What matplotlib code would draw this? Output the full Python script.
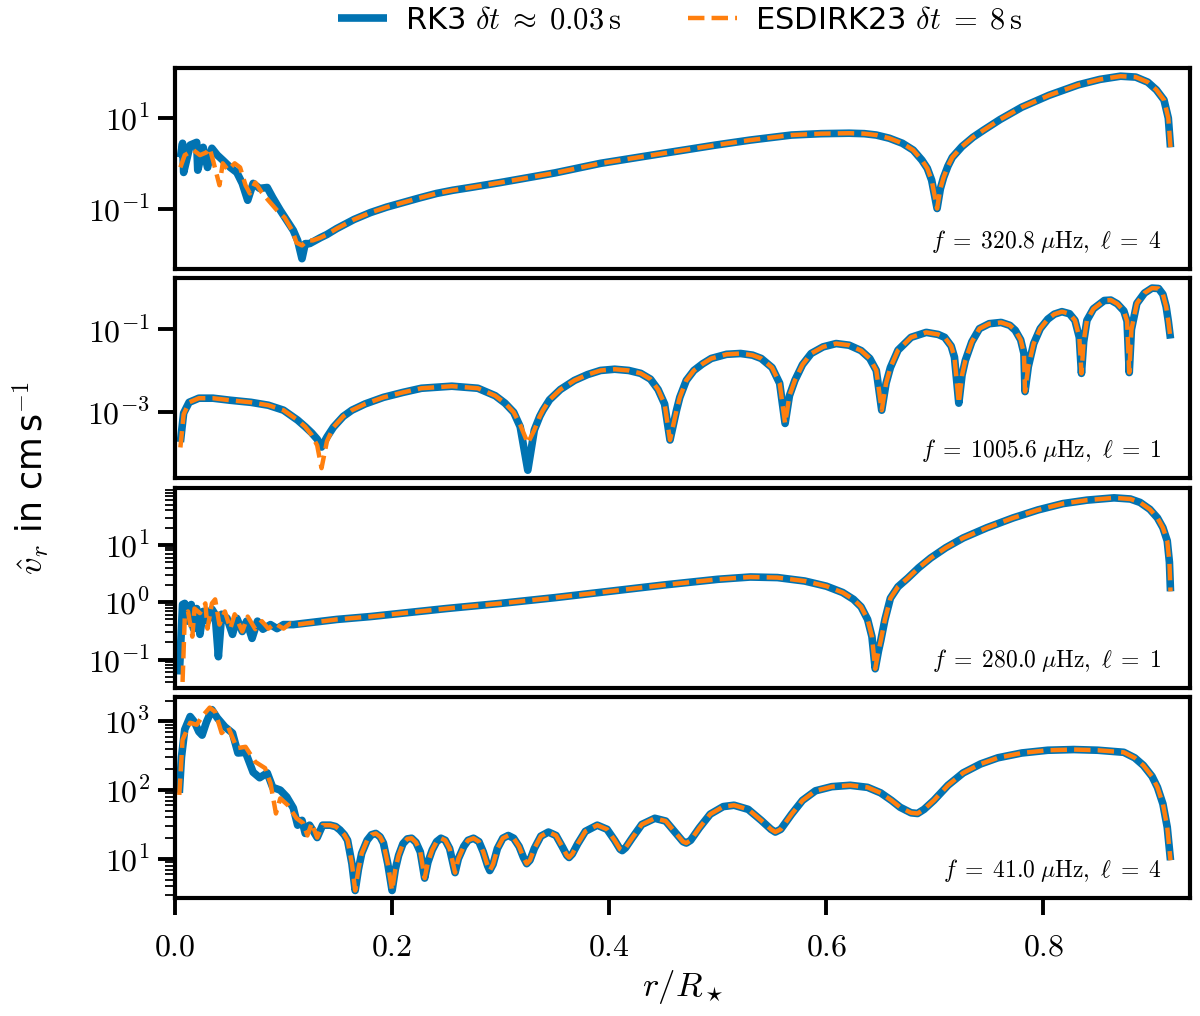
import numpy as np
import matplotlib
matplotlib.use("Agg")
import matplotlib.pyplot as plt
from matplotlib.ticker import FixedLocator, NullLocator, LogLocator, FuncFormatter

plt.rcParams['mathtext.fontset'] = 'cm'
plt.rcParams['font.family'] = ['DejaVu Sans']

BLUE = '#0173b2'
ORANGE = '#ff7f0e'

# values, stored as log10 of v_r (cm/s)

# ---- panel 1: f = 320.8 muHz, l = 4
p1_r_rk3 = [0.005, 0.007, 0.008, 0.014, 0.020, 0.021, 0.026, 0.030, 0.034, 0.039, 0.044, 0.051, 0.057,
            0.062, 0.067, 0.072, 0.078, 0.085, 0.090, 0.097, 0.103, 0.109, 0.113, 0.117, 0.120, 0.124]
p1_lg_rk3 = [0.14, 0.45, -0.19, 0.41, 0.47, -0.14, 0.36, -0.08, 0.34, 0.19, 0.08, -0.08, -0.19,
             -0.43, -0.80, -0.43, -0.54, -0.52, -0.74, -1.02, -1.24, -1.46, -1.68, -2.08, -1.75, -1.75]
p1_r_es = [0.005, 0.009, 0.017, 0.023, 0.029, 0.032, 0.035, 0.041, 0.044, 0.049, 0.055, 0.060, 0.065,
           0.069, 0.074, 0.080, 0.086, 0.094, 0.101, 0.108, 0.112, 0.117, 0.122, 0.127]
p1_lg_es = [-0.08, 0.19, 0.30, 0.19, 0.25, 0.34, 0.08, -0.47, 0.01, -0.14, 0.01, -0.08, -0.47,
            -0.65, -0.41, -0.63, -0.80, -1.02, -1.18, -1.46, -1.73, -1.79, -1.68, -1.68]
p1_r_tail = [0.134, 0.140, 0.149, 0.165, 0.180, 0.195, 0.210, 0.225, 0.241, 0.256, 0.272, 0.300, 0.350,
             0.392, 0.450, 0.498, 0.530, 0.568, 0.595, 0.621, 0.635, 0.646, 0.658, 0.670, 0.680, 0.688,
             0.693, 0.697, 0.702, 0.705, 0.708, 0.712, 0.716, 0.725, 0.735, 0.745, 0.760, 0.780, 0.805,
             0.832, 0.852, 0.871, 0.885, 0.896, 0.904, 0.911, 0.915, 0.917]
p1_lg_tail = [-1.62, -1.55, -1.42, -1.22, -1.07, -0.95, -0.85, -0.75, -0.65, -0.58, -0.52, -0.41, -0.20,
              0.01, 0.23, 0.41, 0.52, 0.63, 0.66, 0.67, 0.66, 0.63, 0.56, 0.45, 0.30, 0.08,
              -0.10, -0.36, -0.98, -0.55, -0.30, -0.05, 0.14, 0.38, 0.58, 0.74, 0.97, 1.24, 1.50,
              1.73, 1.85, 1.92, 1.90, 1.79, 1.62, 1.40, 1.00, 0.36]

# ---- panel 2: f = 1005.6 muHz, l = 1
p2_r_head = [0.005, 0.008, 0.013, 0.022, 0.035, 0.051, 0.070, 0.086, 0.100, 0.113, 0.120, 0.126, 0.131,
             0.135, 0.140, 0.146, 0.155, 0.163, 0.175, 0.192, 0.210, 0.227, 0.255, 0.279, 0.295, 0.304,
             0.312, 0.318, 0.325]
p2_lg_rk3 = [-3.72, -3.02, -2.76, -2.66, -2.66, -2.71, -2.76, -2.83, -2.95, -3.19, -3.35, -3.50, -3.65,
             -3.84, -3.60, -3.36, -3.10, -2.95, -2.80, -2.64, -2.52, -2.42, -2.37, -2.42, -2.60, -2.78,
             -3.00, -3.35, -4.40]
p2_lg_es = [-3.85, -3.05, -2.76, -2.66, -2.66, -2.71, -2.76, -2.83, -2.95, -3.19, -3.35, -3.55, -3.80,
            -4.35, -3.70, -3.36, -3.10, -2.95, -2.80, -2.64, -2.52, -2.42, -2.37, -2.42, -2.60, -2.78,
            -3.00, -3.30, -3.75]
p2_r_tail = [0.331, 0.336, 0.339, 0.345, 0.355, 0.368, 0.380, 0.392, 0.405, 0.418, 0.429, 0.438, 0.445,
             0.451, 0.456, 0.462, 0.465, 0.471, 0.478, 0.486, 0.494, 0.508, 0.521, 0.532, 0.540, 0.550,
             0.557, 0.562, 0.566, 0.571, 0.578, 0.586, 0.597, 0.609, 0.621, 0.632, 0.640, 0.646, 0.651,
             0.655, 0.659, 0.666, 0.678, 0.692, 0.703, 0.709, 0.715, 0.718, 0.722, 0.725, 0.728, 0.734,
             0.741, 0.750, 0.761, 0.769, 0.774, 0.779, 0.782, 0.783, 0.786, 0.791, 0.797, 0.804, 0.810,
             0.817, 0.824, 0.829, 0.833, 0.835, 0.837, 0.840, 0.846, 0.856, 0.862, 0.868, 0.874, 0.877,
             0.879, 0.881, 0.886, 0.893, 0.900, 0.906, 0.910, 0.913, 0.915, 0.917]
p2_lg_tail = [-3.43, -3.10, -2.95, -2.70, -2.45, -2.23, -2.09, -1.99, -1.96, -1.99, -2.06, -2.20, -2.45,
              -2.80, -3.67, -2.95, -2.64, -2.23, -1.99, -1.83, -1.70, -1.60, -1.58, -1.62, -1.70, -1.92,
              -2.30, -3.27, -2.60, -2.23, -1.85, -1.58, -1.42, -1.34, -1.38, -1.51, -1.70, -1.99, -2.95,
              -2.30, -1.92, -1.50, -1.19, -1.07, -1.12, -1.19, -1.40, -1.67, -2.78, -2.10, -1.75, -1.30,
              -0.98, -0.86, -0.83, -0.90, -1.02, -1.25, -1.58, -2.50, -1.90, -1.34, -0.98, -0.75, -0.63,
              -0.57, -0.62, -0.78, -1.19, -2.06, -1.30, -0.78, -0.50, -0.30, -0.29, -0.38, -0.55, -0.80,
              -2.04, -1.00, -0.37, -0.12, 0.00, -0.01, -0.15, -0.45, -0.80, -1.22]

# ---- panel 3: f = 280.0 muHz, l = 1
p3_r_rk3 = [0.004, 0.007, 0.009, 0.012, 0.015, 0.017, 0.020, 0.023, 0.026, 0.030, 0.034, 0.037, 0.040,
            0.043, 0.048, 0.053, 0.057, 0.062, 0.066, 0.071, 0.076, 0.081, 0.088, 0.094, 0.100, 0.109]
p3_lg_rk3 = [-1.26, -0.04, -0.02, -0.33, -0.04, -0.46, -0.11, -0.56, -0.16, -0.33, -0.12, -0.21, -0.95,
             -0.21, -0.28, -0.56, -0.28, -0.51, -0.33, -0.63, -0.33, -0.47, -0.39, -0.46, -0.39, -0.39]
p3_r_es = [0.007, 0.009, 0.012, 0.016, 0.018, 0.023, 0.028, 0.030, 0.034, 0.037, 0.041, 0.046, 0.051,
           0.055, 0.062, 0.067, 0.074, 0.080, 0.086, 0.092, 0.100, 0.106, 0.112]
p3_lg_es = [-1.39, -0.28, -0.16, -0.60, -0.11, -0.19, -0.02, -0.46, -0.02, 0.05, -0.39, -0.16, -0.46,
            -0.21, -0.51, -0.25, -0.47, -0.33, -0.46, -0.37, -0.46, -0.37, -0.39]
p3_r_tail = [0.149, 0.180, 0.210, 0.250, 0.300, 0.350, 0.400, 0.450, 0.500, 0.530, 0.555, 0.580, 0.600,
             0.615, 0.625, 0.632, 0.638, 0.642, 0.645, 0.648, 0.650, 0.654, 0.659, 0.666, 0.675, 0.685,
             0.696, 0.710, 0.726, 0.748, 0.772, 0.795, 0.818, 0.840, 0.865, 0.880, 0.889, 0.898, 0.905,
             0.910, 0.914, 0.916, 0.917]
p3_lg_tail = [-0.30, -0.25, -0.19, -0.11, -0.02, 0.08, 0.19, 0.30, 0.40, 0.44, 0.43, 0.37, 0.28,
              0.17, 0.05, -0.08, -0.30, -0.60, -1.16, -0.85, -0.68, -0.30, 0.07, 0.27, 0.42, 0.60,
              0.77, 0.95, 1.12, 1.30, 1.47, 1.61, 1.72, 1.78, 1.82, 1.80, 1.74, 1.62, 1.47,
              1.30, 1.07, 0.70, 0.19]

# ---- panel 4: f = 41.0 muHz, l = 4
p4_r_rk3 = [0.004, 0.006, 0.009, 0.014, 0.018, 0.022, 0.025, 0.029, 0.034, 0.039, 0.046, 0.053, 0.058,
            0.065, 0.072, 0.078, 0.085, 0.090, 0.097, 0.103, 0.109, 0.113, 0.117, 0.120, 0.124, 0.131, 0.136]
p4_lg_rk3 = [1.96, 2.48, 2.88, 3.07, 2.99, 2.85, 2.80, 2.99, 3.17, 3.05, 2.92, 2.83, 2.54,
             2.55, 2.26, 2.18, 2.25, 2.04, 2.00, 1.90, 1.74, 1.49, 1.56, 1.37, 1.49, 1.31, 1.49]
p4_r_es = [0.004, 0.007, 0.014, 0.020, 0.026, 0.032, 0.037, 0.043, 0.049, 0.057, 0.065, 0.074, 0.083,
           0.088, 0.093, 0.097, 0.104, 0.112, 0.118, 0.122, 0.126, 0.131, 0.136]
p4_lg_es = [1.93, 2.73, 2.98, 2.95, 3.09, 3.20, 3.14, 2.83, 2.92, 2.61, 2.63, 2.41, 2.32,
            2.10, 1.66, 1.88, 1.78, 1.59, 1.52, 1.34, 1.52, 1.31, 1.49]
p4_r_tail = [0.143, 0.148, 0.152, 0.156, 0.159, 0.163, 0.166, 0.169, 0.172, 0.177, 0.181, 0.185, 0.189,
             0.192, 0.196, 0.200, 0.203, 0.206, 0.210, 0.214, 0.218, 0.222, 0.226, 0.230, 0.233, 0.237,
             0.241, 0.245, 0.249, 0.253, 0.258, 0.261, 0.266, 0.270, 0.275, 0.280, 0.284, 0.288, 0.290,
             0.293, 0.297, 0.302, 0.307, 0.312, 0.317, 0.321, 0.324, 0.327, 0.331, 0.337, 0.344, 0.351,
             0.357, 0.361, 0.363, 0.366, 0.371, 0.378, 0.389, 0.398, 0.405, 0.410, 0.412, 0.415, 0.421,
             0.430, 0.442, 0.452, 0.461, 0.468, 0.471, 0.475, 0.483, 0.493, 0.505, 0.515, 0.528, 0.540,
             0.549, 0.553, 0.558, 0.568, 0.578, 0.590, 0.605, 0.622, 0.638, 0.650, 0.660, 0.668, 0.678,
             0.684, 0.690, 0.699, 0.712, 0.726, 0.742, 0.758, 0.780, 0.804, 0.828, 0.850, 0.874, 0.884,
             0.892, 0.900, 0.905, 0.910, 0.914, 0.917]
p4_lg_tail = [1.49, 1.47, 1.42, 1.35, 1.27, 0.93, 0.54, 0.85, 1.08, 1.27, 1.35, 1.37, 1.32,
              1.23, 0.93, 0.54, 0.85, 1.05, 1.22, 1.29, 1.30, 1.24, 1.10, 0.72, 0.95, 1.13,
              1.25, 1.30, 1.27, 1.15, 0.80, 1.00, 1.18, 1.27, 1.30, 1.25, 1.10, 0.90, 0.83,
              0.92, 1.15, 1.30, 1.34, 1.30, 1.18, 1.02, 0.93, 0.98, 1.15, 1.33, 1.39, 1.34,
              1.17, 1.05, 1.02, 1.07, 1.22, 1.40, 1.49, 1.43, 1.27, 1.14, 1.12, 1.16, 1.30,
              1.50, 1.59, 1.55, 1.38, 1.25, 1.23, 1.27, 1.45, 1.65, 1.76, 1.78, 1.72, 1.56,
              1.43, 1.39, 1.43, 1.65, 1.85, 1.99, 2.05, 2.07, 2.04, 1.96, 1.85, 1.75, 1.67,
              1.66, 1.72, 1.85, 2.07, 2.25, 2.38, 2.47, 2.54, 2.58, 2.59, 2.58, 2.55, 2.47,
              2.36, 2.20, 2.04, 1.80, 1.46, 0.98]

labels = [r'$f\;=\;320.8\;\mathrm{\mu Hz},\ \ell\;=\;4$',
          r'$f\;=\;1005.6\;\mathrm{\mu Hz},\ \ell\;=\;1$',
          r'$f\;=\;280.0\;\mathrm{\mu Hz},\ \ell\;=\;1$',
          r'$f\;=\;41.0\;\mathrm{\mu Hz},\ \ell\;=\;4$']

panels = [
    (p1_r_rk3 + p1_r_tail, p1_lg_rk3 + p1_lg_tail, p1_r_es + p1_r_tail, p1_lg_es + p1_lg_tail),
    (p2_r_head + p2_r_tail, p2_lg_rk3 + p2_lg_tail, p2_r_head + p2_r_tail, p2_lg_es + p2_lg_tail),
    (p3_r_rk3 + p3_r_tail, p3_lg_rk3 + p3_lg_tail, p3_r_es + p3_r_tail, p3_lg_es + p3_lg_tail),
    (p4_r_rk3 + p4_r_tail, p4_lg_rk3 + p4_lg_tail, p4_r_es + p4_r_tail, p4_lg_es + p4_lg_tail),
]
ylims = [(-2.3, 2.1), (-4.6, 0.25), (-1.5, 2.0), (0.43, 3.35)]
yticks = [[1e-1, 1e1], [1e-3, 1e-1], [1e-1, 1e0, 1e1], [1e1, 1e2, 1e3]]
minor = [False, False, True, True]

fig, axes = plt.subplots(4, 1, figsize=(12, 10.16), dpi=100, sharex=True)
fig.subplots_adjust(left=0.1458, right=0.9917, top=0.9331, bottom=0.1161, hspace=0.045)

logfmt = FuncFormatter(lambda v, p: r'$10^{%d}$' % int(round(np.log10(v))))
xfmt = FuncFormatter(lambda v, p: r'$%.1f$' % v)

for i, ax in enumerate(axes):
    r1, g1, r2, g2 = panels[i]
    l1, = ax.plot(r1, 10.0 ** np.array(g1), color=BLUE, lw=5.5,
                  solid_capstyle='butt', solid_joinstyle='round')
    l2, = ax.plot(r2, 10.0 ** np.array(g2), color=ORANGE, lw=3.2, ls='--', dashes=(3.7, 1.6))
    ax.set_yscale('log')
    ax.set_ylim(10 ** ylims[i][0], 10 ** ylims[i][1])
    ax.yaxis.set_major_locator(FixedLocator(yticks[i]))
    ax.yaxis.set_major_formatter(logfmt)
    if minor[i]:
        ax.yaxis.set_minor_locator(LogLocator(base=10, subs=np.arange(2, 10), numticks=20))
    else:
        ax.yaxis.set_minor_locator(NullLocator())
    ax.yaxis.set_minor_formatter(FuncFormatter(lambda v, p: ''))
    for s in ax.spines.values():
        s.set_linewidth(3)
    ax.tick_params(axis='both', which='major', length=12, width=2.8, labelsize=23, pad=6)
    ax.tick_params(axis='y', which='minor', length=7, width=1.3)
    ax.text(0.972, 0.07, labels[i], transform=ax.transAxes, ha='right', va='bottom', fontsize=17)
    if i < 3:
        ax.tick_params(axis='x', which='both', bottom=False)

axes[-1].set_xlim(0, 0.935)
axes[-1].xaxis.set_major_locator(FixedLocator([0.0, 0.2, 0.4, 0.6, 0.8]))
axes[-1].xaxis.set_major_formatter(xfmt)
axes[-1].tick_params(axis='x', pad=12)
axes[-1].set_xlabel(r'$r/R_\star$', fontsize=25, labelpad=4)

fig.text(0.026, 1 - 478 / 1016, r'$\hat{v}_r$ in cm$\,$s$^{-1}$', rotation=90,
         ha='center', va='center', fontsize=25)

fig.legend([l1, l2], [r'RK3 $\delta t\;\approx\;0.03\,\mathrm{s}$', r'ESDIRK23 $\delta t\;=\;8\,\mathrm{s}$'],
           loc='center', bbox_to_anchor=(0.567, 1 - 20 / 1016), ncol=2, frameon=False,
           fontsize=22, handlelength=1.6, handletextpad=0.6, columnspacing=2.2)

fig.savefig('out.png', dpi=100)
